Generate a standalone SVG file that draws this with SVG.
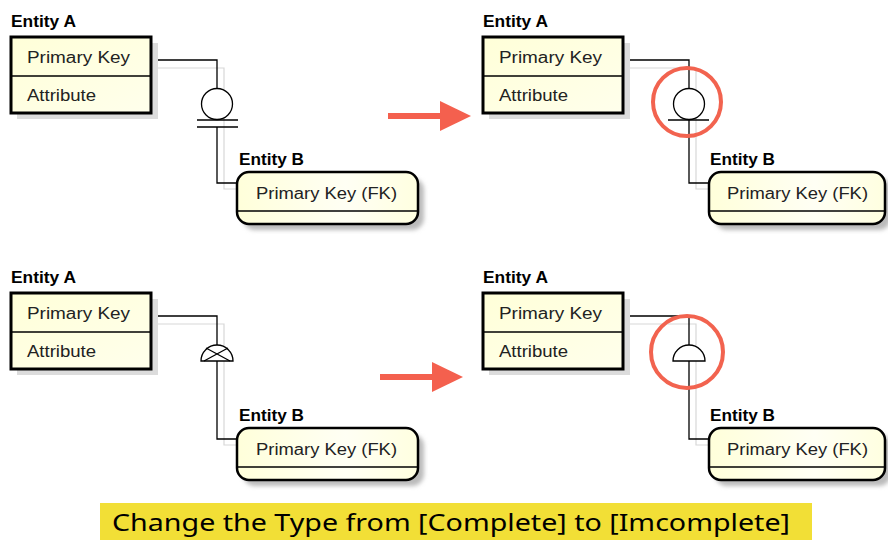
<svg xmlns="http://www.w3.org/2000/svg" width="888" height="540" viewBox="0 0 888 540">
<defs>
<linearGradient id="gA" x1="0" y1="0" x2="1" y2="1">
<stop offset="0" stop-color="#FFFFD8"/>
<stop offset="1" stop-color="#FFFFEC"/>
</linearGradient>
<linearGradient id="gB" x1="0" y1="0" x2="1" y2="0">
<stop offset="0" stop-color="#FFFFDA"/>
<stop offset="0.6" stop-color="#FFFFF4"/>
<stop offset="1" stop-color="#FFFFE0"/>
</linearGradient>
<filter id="blur" x="-10%" y="-20%" width="120%" height="140%">
<feGaussianBlur stdDeviation="2"/>
</filter>
</defs>
<style>
.lbl{font-family:"Liberation Sans",Arial,sans-serif;font-weight:bold;font-size:17px;fill:#000}
.txt{font-family:"Liberation Sans",Arial,sans-serif;font-size:16px;fill:#222}
.boxA{fill:url(#gA);stroke:#000;stroke-width:3}
.boxB{fill:url(#gB);stroke:#000;stroke-width:2.5}
.shA{fill:#DCDCDC}
.shB{fill:#BBBBBB;filter:url(#blur)}
.div{stroke:#000;stroke-width:1.5}
.con{fill:none;stroke:#000;stroke-width:1.3}
.conSh{fill:none;stroke:#D8D8D8;stroke-width:1.2}
.sym{fill:#fff;stroke:#000;stroke-width:1.3}
.ring{fill:none;stroke:#F2634F;stroke-width:4}
.arrow{fill:#F4604E}
.banner{font-family:"Noto Sans","Liberation Sans",sans-serif;font-size:24px;fill:#000}
</style>

<rect width="888" height="540" fill="#fff"/>

<!-- connectors -->
<g id="connectors">
<!-- top-left -->
<path class="conSh" d="M152,68 H224 V189 H247"/>
<path class="con" d="M151,60 H217 V89 M217,127 V183 H237"/>
<circle class="sym" cx="217" cy="104" r="15.5"/>
<path class="con" d="M197,120 H238 M197,127 H238"/>
<!-- top-right -->
<path class="conSh" d="M624,68 H696 V189 H719"/>
<path class="con" d="M623,60 H689 V89 M689,120 V183 H709"/>
<circle class="sym" cx="689" cy="104" r="15.5"/>
<path class="con" d="M668,120 H709"/>
<!-- bottom-left -->
<path class="conSh" d="M152,324 H224 V445 H247"/>
<path class="con" d="M151,316 H217 V345 M217,361 V439 H237"/>
<path class="sym" d="M201,361 A16,16 0 0 1 233,361 Z"/>
<path class="con" d="M206,348 L230,361 M228,348 L204,361"/>
<!-- bottom-right -->
<path class="conSh" d="M624,324 H696 V445 H719"/>
<path class="con" d="M623,316 H689 V345 M689,361 V439 H709"/>
<path class="sym" d="M673,361 A16,16 0 0 1 705,361 Z"/>
</g>

<!-- top-left entities -->
<g id="entityA-tl">
<text class="lbl" x="11" y="27" textLength="65" lengthAdjust="spacingAndGlyphs">Entity A</text>
<rect class="shA" x="17" y="43" width="141" height="76"/>
<rect class="boxA" x="11" y="37" width="140" height="76"/>
<line class="div" x1="11" y1="76" x2="151" y2="76"/>
<text class="txt" x="27" y="63" textLength="103" lengthAdjust="spacingAndGlyphs">Primary Key</text>
<text class="txt" x="27" y="101" textLength="69" lengthAdjust="spacingAndGlyphs">Attribute</text>
</g>
<g id="entityB-tl">
<text class="lbl" x="239" y="165" textLength="65" lengthAdjust="spacingAndGlyphs">Entity B</text>
<rect class="shB" x="243" y="178" width="181" height="52" rx="12"/>
<rect class="boxB" x="237" y="172" width="181" height="52" rx="12"/>
<line class="div" x1="238" y1="211" x2="417" y2="211"/>
<text class="txt" x="256" y="199" textLength="141" lengthAdjust="spacingAndGlyphs">Primary Key (FK)</text>
</g>

<!-- top-right entities -->
<g id="entityA-tr">
<text class="lbl" x="483" y="27" textLength="65" lengthAdjust="spacingAndGlyphs">Entity A</text>
<rect class="shA" x="489" y="43" width="141" height="76"/>
<rect class="boxA" x="483" y="37" width="140" height="76"/>
<line class="div" x1="483" y1="76" x2="623" y2="76"/>
<text class="txt" x="499" y="63" textLength="103" lengthAdjust="spacingAndGlyphs">Primary Key</text>
<text class="txt" x="499" y="101" textLength="69" lengthAdjust="spacingAndGlyphs">Attribute</text>
</g>
<g id="entityB-tr">
<text class="lbl" x="710" y="165" textLength="65" lengthAdjust="spacingAndGlyphs">Entity B</text>
<rect class="shB" x="715" y="178" width="176" height="52" rx="12"/>
<rect class="boxB" x="709" y="172" width="176" height="52" rx="12"/>
<line class="div" x1="710" y1="211" x2="884" y2="211"/>
<text class="txt" x="727" y="199" textLength="141" lengthAdjust="spacingAndGlyphs">Primary Key (FK)</text>
</g>

<!-- bottom-left entities -->
<g id="entityA-bl">
<text class="lbl" x="11" y="283" textLength="65" lengthAdjust="spacingAndGlyphs">Entity A</text>
<rect class="shA" x="17" y="299" width="141" height="76"/>
<rect class="boxA" x="11" y="293" width="140" height="76"/>
<line class="div" x1="11" y1="332" x2="151" y2="332"/>
<text class="txt" x="27" y="319" textLength="103" lengthAdjust="spacingAndGlyphs">Primary Key</text>
<text class="txt" x="27" y="357" textLength="69" lengthAdjust="spacingAndGlyphs">Attribute</text>
</g>
<g id="entityB-bl">
<text class="lbl" x="239" y="421" textLength="65" lengthAdjust="spacingAndGlyphs">Entity B</text>
<rect class="shB" x="243" y="434" width="181" height="52" rx="12"/>
<rect class="boxB" x="237" y="428" width="181" height="52" rx="12"/>
<line class="div" x1="238" y1="467" x2="417" y2="467"/>
<text class="txt" x="256" y="455" textLength="141" lengthAdjust="spacingAndGlyphs">Primary Key (FK)</text>
</g>

<!-- bottom-right entities -->
<g id="entityA-br">
<text class="lbl" x="483" y="283" textLength="65" lengthAdjust="spacingAndGlyphs">Entity A</text>
<rect class="shA" x="489" y="299" width="141" height="76"/>
<rect class="boxA" x="483" y="293" width="140" height="76"/>
<line class="div" x1="483" y1="332" x2="623" y2="332"/>
<text class="txt" x="499" y="319" textLength="103" lengthAdjust="spacingAndGlyphs">Primary Key</text>
<text class="txt" x="499" y="357" textLength="69" lengthAdjust="spacingAndGlyphs">Attribute</text>
</g>
<g id="entityB-br">
<text class="lbl" x="710" y="421" textLength="65" lengthAdjust="spacingAndGlyphs">Entity B</text>
<rect class="shB" x="715" y="434" width="176" height="52" rx="12"/>
<rect class="boxB" x="709" y="428" width="176" height="52" rx="12"/>
<line class="div" x1="710" y1="467" x2="884" y2="467"/>
<text class="txt" x="727" y="455" textLength="141" lengthAdjust="spacingAndGlyphs">Primary Key (FK)</text>
</g>

<!-- highlight rings -->
<g id="highlights">
<circle class="ring" cx="687" cy="102" r="34"/>
<circle class="ring" cx="687" cy="352" r="36"/>
</g>

<!-- arrows -->
<g id="arrow-top">
<rect class="arrow" x="388" y="113" width="54" height="6"/>
<polygon class="arrow" points="440,101 471,116 440,131"/>
</g>
<g id="arrow-bottom">
<rect class="arrow" x="380" y="374" width="54" height="6"/>
<polygon class="arrow" points="432,362 463,377 432,392"/>
</g>

<!-- caption -->
<g id="caption">
<rect x="100" y="503" width="712" height="37" fill="#F2DF36"/>
<text class="banner" x="112" y="531" textLength="678" lengthAdjust="spacingAndGlyphs">Change the Type from [Complete] to [Imcomplete]</text>
</g>
</svg>
